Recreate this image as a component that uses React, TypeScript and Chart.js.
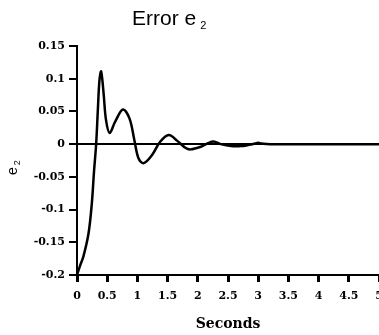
import React, { useEffect, useRef } from "react";
import { Chart, registerables } from "chart.js";

Chart.register(...registerables);

// Time (seconds) and error e2 values
const timeSeconds = [
  0, 0.05, 0.105, 0.19, 0.245, 0.283, 0.317, 0.345, 0.372, 0.4, 0.44, 0.48, 0.54,
  0.63, 0.76, 0.87, 0.95, 1.02, 1.105, 1.24, 1.38, 1.52, 1.66, 1.8, 1.88, 2.05,
  2.16, 2.26, 2.38, 2.55, 2.72, 2.85, 2.95, 3.0, 3.05, 3.2, 4.0, 5.0,
];
const e2Values = [
  -0.2, -0.186, -0.172, -0.137, -0.091, -0.04, 0, 0.052, 0.098, 0.111, 0.078, 0.037,
  0.017, 0.034, 0.053, 0.039, 0.006, -0.022, -0.029, -0.017, 0.004, 0.014, 0.005,
  -0.006, -0.008, -0.004, 0.001, 0.004, 0, -0.003, -0.003, -0.001, 0.001, 0.002,
  0.001, 0, 0, 0,
];
const xTickValues = [0, 0.5, 1, 1.5, 2, 2.5, 3, 3.5, 4, 4.5, 5];
const xTickLabels = ["0", "0.5", "1", "1.5", "2", "2.5", "3", "3.5", "4", "4.5", "5"];
const yTickValues = [-0.2, -0.15, -0.1, -0.05, 0, 0.05, 0.1, 0.15];
const yTickLabels = ["-0.2", "-0.15", "-0.1", "-0.05", "0", "0.05", "0.1", "0.15"];
const titleMain = "Error e";
const titleSub = "2";
const yLabelMain = "e";
const yLabelSub = "2";
const xLabel = "Seconds";

const textPlugin = {
  id: "customTexts",
  afterDraw(chart: any) {
    const ctx = chart.ctx;
    ctx.save();
    ctx.fillStyle = "#000";
    ctx.textBaseline = "alphabetic";
    ctx.textAlign = "left";
    // main title with subscript
    ctx.font = '21px "Liberation Sans", Arial, sans-serif';
    ctx.fillText(titleMain, 132, 25);
    const w = ctx.measureText(titleMain).width;
    ctx.font = '11px "Liberation Sans", Arial, sans-serif';
    ctx.fillText(titleSub, 132 + w + 4, 29);
    // y axis label, rotated
    ctx.translate(17, 175);
    ctx.rotate(-Math.PI / 2);
    ctx.font = '14px "Liberation Sans", Arial, sans-serif';
    ctx.fillText(yLabelMain, 0, 0);
    const we = ctx.measureText(yLabelMain).width;
    ctx.font = '9px "Liberation Sans", Arial, sans-serif';
    ctx.fillText(yLabelSub, we + 2, 3);
    ctx.restore();
  },
};

export default function App() {
  const canvasRef = useRef<HTMLCanvasElement | null>(null);

  useEffect(() => {
    const canvas = canvasRef.current;
    if (!canvas) return;
    const data = timeSeconds.map((t, i) => ({ x: t, y: e2Values[i] }));
    const tickFont = { family: '"DejaVu Serif", serif', size: 11, weight: "bold" as const };
    const chart = new Chart(canvas, {
      type: "line",
      data: {
        datasets: [
          {
            data,
            borderColor: "#000",
            borderWidth: 2.5,
            pointRadius: 0,
            fill: false,
            tension: 0.35,
          },
        ],
      },
      plugins: [textPlugin],
      options: {
        responsive: false,
        animation: false,
        devicePixelRatio: 1,
        layout: { padding: { top: 46, left: 0, right: 0, bottom: 0 } },
        plugins: {
          legend: { display: false },
          tooltip: { enabled: false },
          title: { display: false },
        },
        scales: {
          x: {
            type: "linear",
            min: 0,
            max: 5,
            afterBuildTicks: (scale: any) => {
              scale.ticks = xTickValues.map((v) => ({ value: v }));
            },
            afterFit: (scale: any) => {
              scale.height = 60;
              scale.paddingLeft = 0;
              scale.paddingRight = 0;
            },
            ticks: {
              color: "#000",
              font: tickFont,
              padding: 8,
              maxRotation: 0,
              autoSkip: false,
              callback: (_v: any, i: number) => xTickLabels[i],
            },
            grid: {
              drawOnChartArea: false,
              drawTicks: true,
              tickLength: 7,
              tickWidth: 3,
              tickColor: "#000",
            },
            border: { display: true, color: "#000", width: 2 },
            title: {
              display: true,
              text: xLabel,
              color: "#000",
              font: { family: '"DejaVu Serif", serif', size: 14, weight: "bold" },
              padding: { top: 0, bottom: 2 },
            },
          },
          y: {
            type: "linear",
            min: -0.2,
            max: 0.15,
            afterBuildTicks: (scale: any) => {
              scale.ticks = yTickValues.map((v) => ({ value: v }));
            },
            afterFit: (scale: any) => {
              scale.width = 77;
              scale.paddingTop = 0;
              scale.paddingBottom = 0;
            },
            ticks: {
              color: "#000",
              font: tickFont,
              padding: 4,
              autoSkip: false,
              callback: (_v: any, i: number) => yTickLabels[i],
            },
            grid: {
              drawOnChartArea: true,
              drawTicks: true,
              tickLength: 8,
              lineWidth: 2,
              tickWidth: 2,
              tickColor: "#000",
              color: (ctx: any) =>
                ctx.tick && ctx.tick.value === 0 ? "#000" : "rgba(0,0,0,0)",
            },
            border: { display: true, color: "#000", width: 2 },
          },
        },
      },
    } as any);
    return () => chart.destroy();
  }, []);

  return (
    <div style={{ position: "absolute", left: 0, top: 0, width: 379, height: 335, background: "#fff" }}>
      <canvas ref={canvasRef} width={379} height={335} style={{ display: "block" }} />
    </div>
  );
}
